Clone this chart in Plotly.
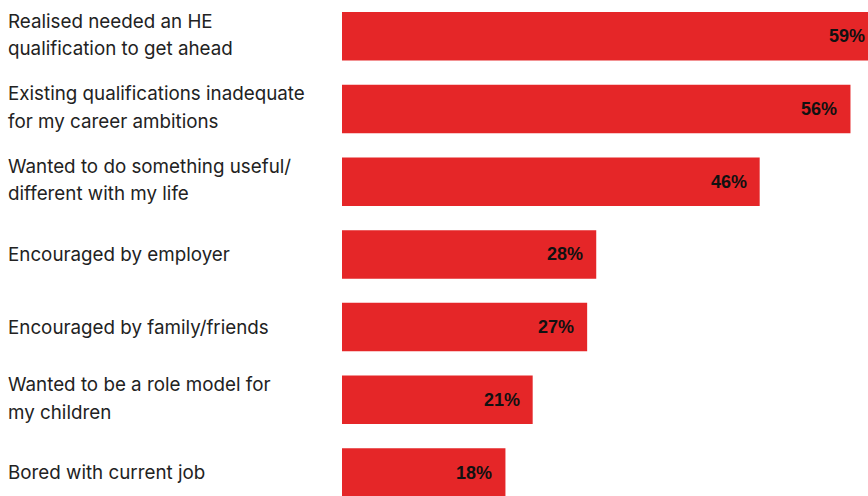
import plotly.graph_objects as go

# Survey responses: reasons for starting higher education
reasons = [
    "Realised needed an HE<br>qualification to get ahead",
    "Existing qualifications inadequate<br>for my career ambitions",
    "Wanted to do something useful/<br>different with my life",
    "Encouraged by employer",
    "Encouraged by family/friends",
    "Wanted to be a role model for<br>my children",
    "Bored with current job",
]
shares = [59, 56, 46, 28, 27, 21, 18]

BAR_RED = "#E52628"
W, H = 868, 496
LEFT = 342
PX_PER_PCT = 9.08
PITCH = 72.7
X_MAX = (W - LEFT) / PX_PER_PCT

fig = go.Figure(
    go.Bar(
        x=shares,
        y=reasons,
        orientation="h",
        marker=dict(color=BAR_RED, line=dict(width=0)),
        hoverinfo="skip",
    )
)

# Value labels just inside the end of each bar; a bar running past the
# axis end gets its label anchored at the edge and shifted by the overflow
for r, v in zip(reasons, shares):
    anchor_x = min(v, X_MAX)
    overflow_px = (v - anchor_x) * PX_PER_PCT
    fig.add_annotation(
        x=anchor_x, y=r, xref="x", yref="y",
        text=f"{v}%", showarrow=False,
        xanchor="right", yanchor="middle", xshift=overflow_px - 11,
        font=dict(family="Liberation Sans, Arial, sans-serif", size=18,
                  color="#111111", weight="bold"),
    )

# Category labels, left-aligned in the margin, one annotation per line
x_left = -(LEFT - 6) / (W - LEFT)
line_gap = 27.5
for r in reasons:
    lines = r.split("<br>")
    n = len(lines)
    for i, ln in enumerate(lines):
        offset = ((n - 1) / 2 - i) * line_gap + (1.5 if n > 1 else 0)
        fig.add_annotation(
            x=x_left, y=r, xref="paper", yref="y",
            text=ln, showarrow=False,
            xanchor="left", yanchor="middle", yshift=offset,
            font=dict(family="Inter, sans-serif", size=18.8, color="#222222"),
        )

units = H / PITCH
top = -36.3 / PITCH
fig.update_layout(
    width=W, height=H,
    margin=dict(l=LEFT, r=0, t=0, b=0),
    paper_bgcolor="white", plot_bgcolor="white",
    bargap=1 - 48.5 / PITCH,
    showlegend=False,
    xaxis=dict(range=[0, X_MAX], visible=False, fixedrange=True),
    yaxis=dict(range=[top + units, top], showticklabels=False, showgrid=False,
               zeroline=False, fixedrange=True, ticks=""),
)

fig.write_html("out.html", config={"displayModeBar": False})
